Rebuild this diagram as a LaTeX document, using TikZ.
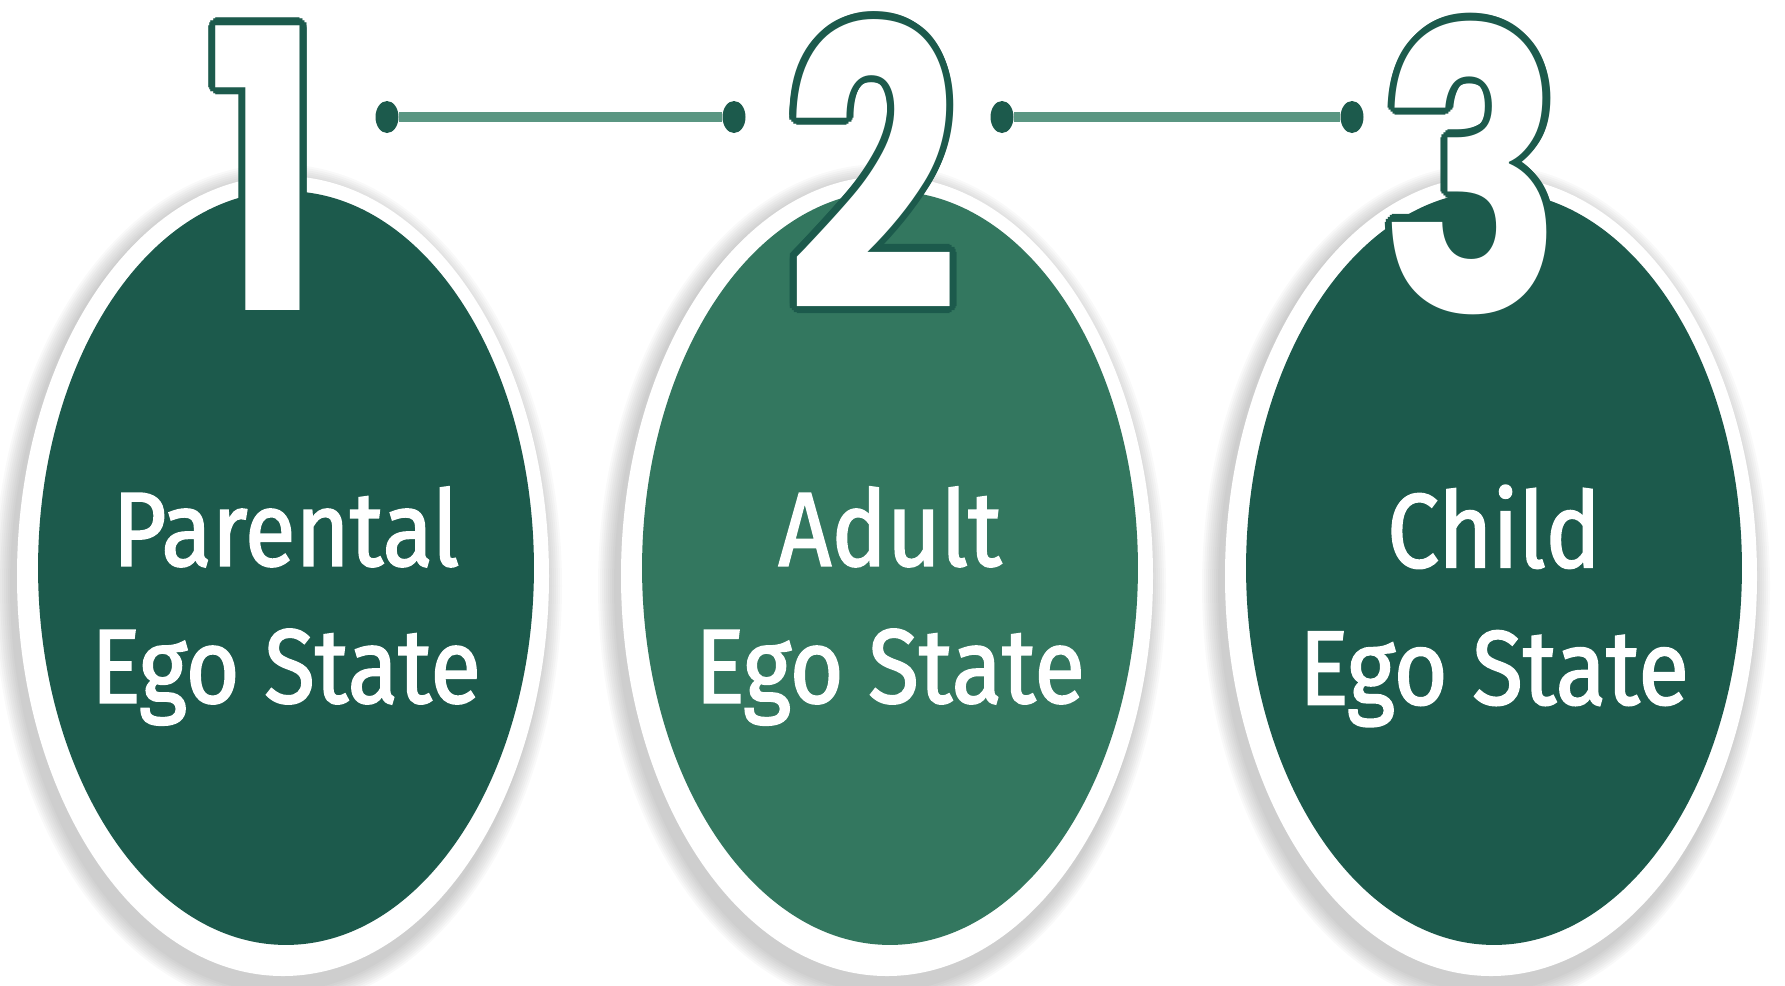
\documentclass[tikz,border=0pt]{standalone}
\usepackage{fontspec}
\setmainfont{Fira Sans}[FakeStretch=0.88, FakeBold=1.6]
\newfontfamily\numfont{Poppins}[FakeStretch=0.78]
\usepackage{contour}
\contourlength{4pt}
\usetikzlibrary{shapes.geometric, calc, positioning}
\definecolor{egodark}{HTML}{1C5A4C}
\definecolor{egomid}{HTML}{33775F}
\definecolor{linkgreen}{HTML}{5A9682}

\tikzset{
  state/.style={ellipse, minimum width=9.92cm, minimum height=15.08cm, inner sep=0pt},
  statetext/.style={text=white, align=center, font=\fontsize{60}{78}\selectfont},
  num/.style={anchor=base, text=white, inner sep=0pt, font=\numfont\bfseries\fontsize{222}{222}\selectfont},
  dot/.style={ellipse, fill=egodark, minimum width=0.46cm, minimum height=0.64cm, inner sep=0pt},
  link/.style={linkgreen, line width=5.5pt}
}

\begin{document}
\begin{tikzpicture}[x=0.02cm, y=-0.02cm]
\useasboundingbox (0,0) rectangle (1785,985);
% soft shadow and white rim
\foreach \x in {286,890,1494} {
  \foreach \k in {1,...,9}
    \fill[black, opacity=0.022] (\x-8,586) ellipse [x radius=266+2*\k, y radius=404+2*\k];
  \fill[white] (\x-3,576) ellipse [x radius=266, y radius=400];
}
\node[state, fill=egodark] (parent) at (286,568) {};
\node[state, fill=egomid] (adult) at (890,568) {};
\node[state, fill=egodark] (child) at (1494,568) {};
\node[statetext] (parenttext) at ([yshift=-0.76cm]parent.center) {Parental\\Ego State};
\node[statetext] (adulttext) at ([yshift=-0.76cm]adult.center) {Adult\\Ego State};
\node[statetext] (childtext) at ([yshift=-0.76cm]child.center) {Child\\Ego State};
% numbers
\node[num] (one) at (265,310) {\contour{egodark}{1}};
\node[num] (two) at (872,310) {\contour{egodark}{2}};
\node[num] (three) at (1472,312) {\contour{egodark}{3}};
% connectors
\node[dot] (d1) at (387,117) {};
\node[dot] (d2) at (734,117) {};
\node[dot] (d3) at (1002,117) {};
\node[dot] (d4) at (1352,117) {};
\draw[link] (d1) -- (d2);
\draw[link] (d3) -- (d4);
\end{tikzpicture}
\end{document}
